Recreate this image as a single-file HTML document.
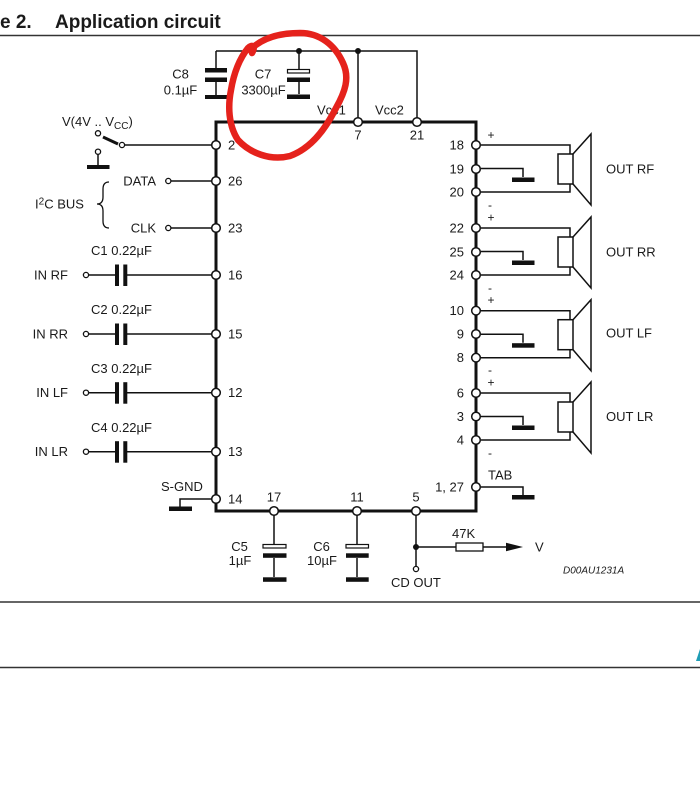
<!DOCTYPE html>
<html><head><meta charset="utf-8"><style>
html,body{margin:0;padding:0;background:#fff;}
svg{display:block;}
text{font-family:"Liberation Sans",Arial,sans-serif;fill:#1a1a1a;}
</style></head><body>
<svg width="700" height="797" viewBox="0 0 700 797" xmlns="http://www.w3.org/2000/svg">
<rect width="700" height="797" fill="#fff"/>
<!-- title -->
<text x="0" y="28" font-size="19" font-weight="bold">e 2.</text>
<text x="55" y="28" font-size="19" font-weight="bold">Application circuit</text>
<line x1="0" y1="35.5" x2="700" y2="35.5" stroke="#333" stroke-width="1.6"/>

<g stroke="#111" stroke-width="1.5" fill="none">
  <!-- top rail -->
  <path d="M216,51 H417 V118"/>
  <path d="M358,51 V118"/>
  <!-- C8 -->
  <path d="M216,51 V68"/>
  <path d="M216,82 V95"/>
  <!-- C7 -->
  <path d="M299,51 V69"/>
  <path d="M299,82 V94"/>
  <!-- IC box thick -->
  <path d="M216,122 H476 V511 H216 Z" stroke-width="3"/>
  <!-- switch -->
  <path d="M125,145 H212"/>
  <path d="M98,154 V166"/>
  <path d="M103,137 L118,144" stroke-width="3"/>
  <!-- I2C -->
  <path d="M171,181 H212"/>
  <path d="M171,228 H212"/>
  <path d="M109,182 Q103,182 103,189 L103,197 Q103,204 97,204 Q103,204 103,211 L103,221 Q103,228 109,228" stroke-width="1.3"/>
  <!-- input caps -->
  <path d="M89,275 H115 M127,275 H212"/>
  <path d="M89,334 H115 M127,334 H212"/>
  <path d="M89,392.7 H115 M127,392.7 H212"/>
  <path d="M89,451.7 H115 M127,451.7 H212"/>
  <!-- S-GND -->
  <path d="M212,499 H180 V507"/>
  <!-- C5, C6 -->
  <path d="M274,515 V544 M274,558 V577"/>
  <path d="M357,515 V544 M357,558 V577"/>
  <!-- pin 5 -->
  <path d="M416,515 V566"/>
  <path d="M416,547 H456 M483,547 H508"/>
  <rect x="456" y="543" width="27" height="8" stroke-width="1.3"/>
  <!-- TAB -->
  <path d="M481,487 H523 V495"/>
</g>

<!-- filled plates / grounds -->
<g fill="#111">
  <rect x="205" y="68" width="22" height="4.5"/>
  <rect x="205" y="77.5" width="22" height="4.5"/>
  <rect x="205" y="95" width="22" height="4"/>
  <rect x="287.5" y="69.5" width="22" height="3.5" fill="#fff" stroke="#111" stroke-width="1.2"/>
  <rect x="287" y="77.5" width="23" height="4.5"/>
  <rect x="287" y="94.5" width="23" height="4.5"/>
  <!-- switch ground -->
  <rect x="87" y="165" width="22.5" height="4"/>
  <!-- input caps plates -->
  <rect x="115" y="264.5" width="4" height="21.5"/><rect x="123.3" y="264.5" width="4" height="21.5"/>
  <rect x="115" y="323.5" width="4" height="21.5"/><rect x="123.3" y="323.5" width="4" height="21.5"/>
  <rect x="115" y="382.2" width="4" height="21.5"/><rect x="123.3" y="382.2" width="4" height="21.5"/>
  <rect x="115" y="441.2" width="4" height="21.5"/><rect x="123.3" y="441.2" width="4" height="21.5"/>
  <!-- S-GND bar -->
  <rect x="169" y="506.5" width="23" height="4.5"/>
  <!-- C5 C6 -->
  <rect x="263" y="544.5" width="23" height="3.5" fill="#fff" stroke="#111" stroke-width="1.2"/>
  <rect x="263" y="553.3" width="23.5" height="4.5"/>
  <rect x="263" y="577.3" width="23.5" height="4.5"/>
  <rect x="346" y="544.5" width="22.5" height="3.5" fill="#fff" stroke="#111" stroke-width="1.2"/>
  <rect x="346" y="553.3" width="22.7" height="4.5"/>
  <rect x="346" y="577.3" width="22.7" height="4.5"/>
  <!-- TAB ground -->
  <rect x="512" y="495" width="22.5" height="4.5"/>
  <!-- arrow -->
  <polygon points="506,542.8 523,547 506,551.2"/>
  <!-- dots -->
  <circle cx="299" cy="51" r="3"/>
  <circle cx="358" cy="51" r="3"/>
  <circle cx="416" cy="547" r="3"/>
</g>

<!-- speakers -->
<g id="spk">
<g transform="translate(0,145)" stroke="#111" stroke-width="1.5" fill="none">
  <path d="M481,0 H570 V9 M481,47 H570 V39 M481,23.5 H523 V32"/>
  <rect x="558" y="9" width="15" height="30"/>
  <path d="M573,9 L591,-11 V60 L573,39"/>
  <rect x="512" y="32.5" width="22.5" height="4.5" fill="#111" stroke="none"/>
</g>
<g transform="translate(0,228)" stroke="#111" stroke-width="1.5" fill="none">
  <path d="M481,0 H570 V9 M481,47 H570 V39 M481,23.5 H523 V32"/>
  <rect x="558" y="9" width="15" height="30"/>
  <path d="M573,9 L591,-11 V60 L573,39"/>
  <rect x="512" y="32.5" width="22.5" height="4.5" fill="#111" stroke="none"/>
</g>
<g transform="translate(0,310.7)" stroke="#111" stroke-width="1.5" fill="none">
  <path d="M481,0 H570 V9 M481,47 H570 V39 M481,23.5 H523 V32"/>
  <rect x="558" y="9" width="15" height="30"/>
  <path d="M573,9 L591,-11 V60 L573,39"/>
  <rect x="512" y="32.5" width="22.5" height="4.5" fill="#111" stroke="none"/>
</g>
<g transform="translate(0,393)" stroke="#111" stroke-width="1.5" fill="none">
  <path d="M481,0 H570 V9 M481,47 H570 V39 M481,23.5 H523 V32"/>
  <rect x="558" y="9" width="15" height="30"/>
  <path d="M573,9 L591,-11 V60 L573,39"/>
  <rect x="512" y="32.5" width="22.5" height="4.5" fill="#111" stroke="none"/>
</g>
</g>

<!-- pin circles -->
<g fill="#fff" stroke="#111" stroke-width="1.5">
  <circle cx="358" cy="122" r="4.3"/><circle cx="417" cy="122" r="4.3"/>
  <circle cx="216" cy="145" r="4.3"/><circle cx="216" cy="181" r="4.3"/><circle cx="216" cy="228" r="4.3"/>
  <circle cx="216" cy="275" r="4.3"/><circle cx="216" cy="334" r="4.3"/><circle cx="216" cy="392.7" r="4.3"/>
  <circle cx="216" cy="451.7" r="4.3"/><circle cx="216" cy="499" r="4.3"/>
  <circle cx="274" cy="511" r="4.3"/><circle cx="357" cy="511" r="4.3"/><circle cx="416" cy="511" r="4.3"/>
  <circle cx="476" cy="145" r="4.3"/><circle cx="476" cy="169" r="4.3"/><circle cx="476" cy="192" r="4.3"/>
  <circle cx="476" cy="228" r="4.3"/><circle cx="476" cy="252" r="4.3"/><circle cx="476" cy="275" r="4.3"/>
  <circle cx="476" cy="310.7" r="4.3"/><circle cx="476" cy="334" r="4.3"/><circle cx="476" cy="357.7" r="4.3"/>
  <circle cx="476" cy="393" r="4.3"/><circle cx="476" cy="416.5" r="4.3"/><circle cx="476" cy="440" r="4.3"/>
  <circle cx="476" cy="487" r="4.3"/>
</g>
<g fill="#fff" stroke="#111" stroke-width="1.3">
  <circle cx="98" cy="133.3" r="2.6"/><circle cx="98" cy="151.7" r="2.6"/><circle cx="122" cy="145" r="2.6"/>
  <circle cx="168.3" cy="181" r="2.6"/><circle cx="168.3" cy="228" r="2.6"/>
  <circle cx="86" cy="275" r="2.6"/><circle cx="86" cy="334" r="2.6"/><circle cx="86" cy="392.7" r="2.6"/><circle cx="86" cy="451.7" r="2.6"/>
  <circle cx="416" cy="569" r="2.6"/>
</g>

<!-- labels -->
<g font-size="13">
  <text x="180.5" y="78.5" text-anchor="middle">C8</text>
  <text x="180.5" y="94.5" text-anchor="middle">0.1µF</text>
  <text x="263" y="78.5" text-anchor="middle">C7</text>
  <text x="263.5" y="94.5" text-anchor="middle">3300µF</text>
  <text x="317" y="114.5">Vcc1</text>
  <text x="375" y="114.5">Vcc2</text>
  <text x="358" y="139.5" text-anchor="middle">7</text>
  <text x="417" y="139.5" text-anchor="middle">21</text>
  <text x="62" y="126">V(4V .. V<tspan font-size="10" dy="3">CC</tspan><tspan dy="-3">)</tspan></text>
  <text x="156" y="185.5" text-anchor="end">DATA</text>
  <text x="156" y="232.5" text-anchor="end">CLK</text>
  <text x="35" y="208.5">I<tspan font-size="10" dy="-4">2</tspan><tspan dy="4">C BUS</tspan></text>
  <text x="91" y="255">C1 0.22µF</text>
  <text x="91" y="314">C2 0.22µF</text>
  <text x="91" y="373">C3 0.22µF</text>
  <text x="91" y="432">C4 0.22µF</text>
  <text x="68" y="279.5" text-anchor="end">IN RF</text>
  <text x="68" y="338.5" text-anchor="end">IN RR</text>
  <text x="68" y="397" text-anchor="end">IN LF</text>
  <text x="68" y="456" text-anchor="end">IN LR</text>
  <text x="161" y="491">S-GND</text>
  <text x="228" y="149.5">2</text>
  <text x="228" y="185.5">26</text>
  <text x="228" y="232.5">23</text>
  <text x="228" y="279.5">16</text>
  <text x="228" y="338.5">15</text>
  <text x="228" y="397">12</text>
  <text x="228" y="456">13</text>
  <text x="228" y="503.5">14</text>
  <text x="274" y="501.5" text-anchor="middle">17</text>
  <text x="357" y="501.5" text-anchor="middle">11</text>
  <text x="416" y="501.5" text-anchor="middle">5</text>
  <text x="464" y="149.5" text-anchor="end">18</text>
  <text x="464" y="173.5" text-anchor="end">19</text>
  <text x="464" y="196.5" text-anchor="end">20</text>
  <text x="464" y="232.5" text-anchor="end">22</text>
  <text x="464" y="256.5" text-anchor="end">25</text>
  <text x="464" y="279.5" text-anchor="end">24</text>
  <text x="464" y="315" text-anchor="end">10</text>
  <text x="464" y="338.5" text-anchor="end">9</text>
  <text x="464" y="362" text-anchor="end">8</text>
  <text x="464" y="397.5" text-anchor="end">6</text>
  <text x="464" y="421" text-anchor="end">3</text>
  <text x="464" y="444.5" text-anchor="end">4</text>
  <text x="464" y="491.5" text-anchor="end">1, 27</text>
  <text x="488" y="479.5">TAB</text>
  <text x="606" y="173.5">OUT RF</text>
  <text x="606" y="256.5">OUT RR</text>
  <text x="606" y="337.5">OUT LF</text>
  <text x="606" y="421">OUT LR</text>
  <text x="239.5" y="551" text-anchor="middle">C5</text>
  <text x="240" y="565" text-anchor="middle">1µF</text>
  <text x="321.5" y="551" text-anchor="middle">C6</text>
  <text x="322" y="565" text-anchor="middle">10µF</text>
  <text x="391" y="587">CD OUT</text>
  <text x="452" y="538">47K</text>
  <text x="535" y="551.5">V</text>
</g>
<g font-size="12" text-anchor="middle">
  <text x="491" y="139">+</text><text x="490" y="209">-</text>
  <text x="491" y="221.5">+</text><text x="490" y="292">-</text>
  <text x="491" y="304">+</text><text x="490" y="374">-</text>
  <text x="491" y="386.5">+</text><text x="490" y="457">-</text>
</g>
<text x="563" y="573.5" font-size="10" font-style="italic">D00AU1231A</text>

<!-- bottom lines -->
<line x1="0" y1="602" x2="700" y2="602" stroke="#333" stroke-width="1.6"/>
<line x1="0" y1="667.5" x2="700" y2="667.5" stroke="#333" stroke-width="1.6"/>
<polygon points="696,661 700,649 700,661" fill="#1f9db5"/>

<!-- red hand-drawn circle -->
<path d="M250,50 C262,38 280,33 300,33 C320,33 335,45 343,63 C350,78 345,92 336,108 C326,128 312,148 290,156 C270,161 250,153 238,140 C228,125 228,105 231,90 C234,72 240,58 248,48 C252,44 256,46 252,53" fill="none" stroke="#e5221c" stroke-width="6.5" stroke-linecap="round" stroke-linejoin="round"/>
</svg>
</body></html>
